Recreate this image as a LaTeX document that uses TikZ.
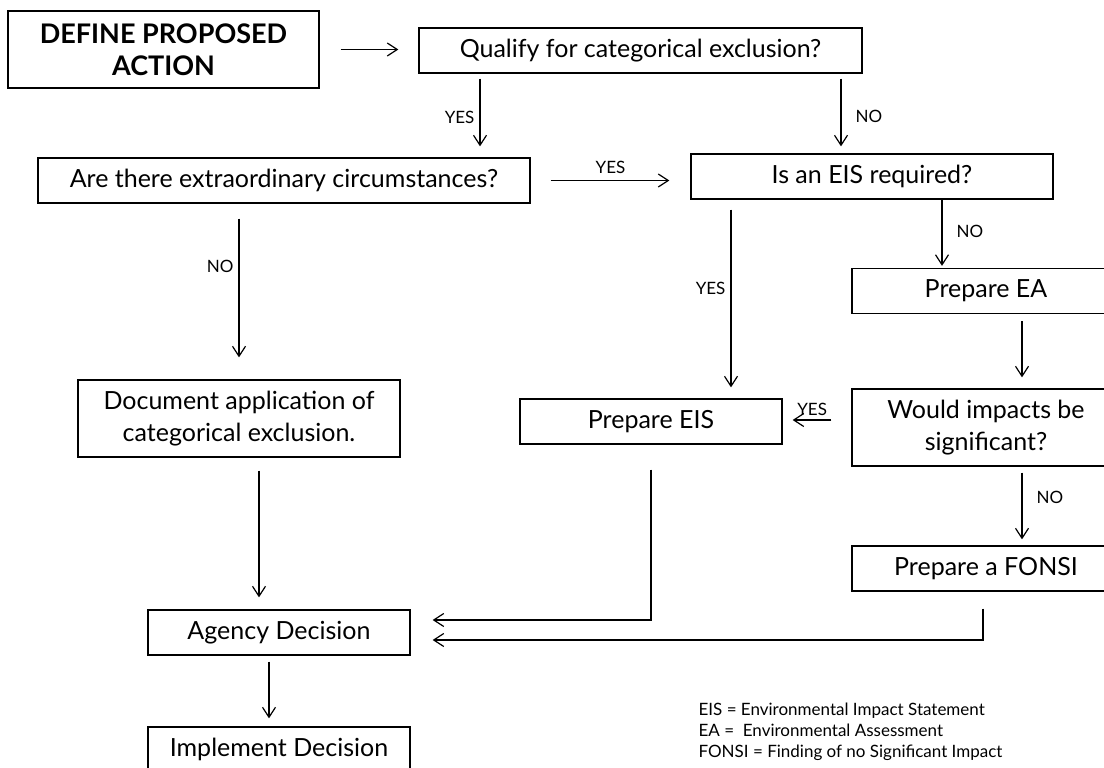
\documentclass[tikz,border=0pt]{standalone}
\usepackage{fontspec}
\setmainfont{Lato}
\usetikzlibrary{arrows.meta}

\begin{document}
\begin{tikzpicture}[x=1pt, y=-1pt, line width=1.2pt,
  box/.style={draw, line width=1.3pt, inner sep=0pt, align=center, minimum height=45pt, font=\fontsize{25}{32}\selectfont},
  arr/.style={-{Straight Barb[length=10pt, width=13pt]}},
  lbl/.style={font=\fontsize{17}{20}\selectfont, inner sep=2pt}]
  \useasboundingbox (0,0) rectangle (1104,768);

  % boxes
  \node[box, minimum width=311pt, minimum height=77pt, font=\fontsize{27}{32}\selectfont\bfseries] (define) at (163.5,49.5) {DEFINE PROPOSED\\ACTION};
  \node[box, minimum width=443pt] (qualify) at (640.5,50.5) {Qualify for categorical exclusion?};
  \node[box, minimum width=492pt] (extra) at (284,180.5) {Are there extraordinary circumstances?};
  \node[box, minimum width=362pt] (eisq) at (872,176.5) {Is an EIS required?};
  \node[box, minimum width=268pt] (prepea) at (986,291) {Prepare EA};
  \node[box, minimum width=268pt, minimum height=77pt] (would) at (986,427.5) {Would impacts be\\significant?};
  \node[box, minimum width=268pt] (fonsi) at (986,568.5) {Prepare a FONSI};
  \node[box, minimum width=262pt] (prepeis) at (651,421.5) {Prepare EIS};
  \node[box, minimum width=322pt, minimum height=77pt] (docu) at (239,418.5) {Document application of\\categorical exclusion.};
  \node[box, minimum width=262pt] (agency) at (279,632.5) {Agency Decision};
  \node[box, minimum width=262pt] (implement) at (279,749.5) {Implement Decision};

  % columns and rows for the connectors
  \coordinate (c1) at (480,0);
  \coordinate (c2) at (841,0);
  \coordinate (c3) at (942,0);
  \coordinate (c4) at (239,0);
  \coordinate (c5) at (731,0);
  \coordinate (c6) at (1022,0);
  \coordinate (c7) at (259,0);
  \coordinate (c8) at (269,0);
  \coordinate (c9) at (983,0);
  \coordinate (r1) at (0,420);
  \coordinate (r2) at (0,620);
  \coordinate (r3) at (0,640);

  \draw[arr, shorten <=21pt, shorten >=20pt] (define.east) -- (define.east -| qualify.west);
  \draw[arr, shorten <=5pt, shorten >=11pt] (qualify.south -| c1) -- node[lbl, left=3pt, pos=0.52] (yes1) {YES} (extra.north -| c1);
  \draw[arr, shorten <=5pt, shorten >=7pt] (qualify.south -| c2) -- node[lbl, right=12pt, pos=0.54] (no1) {NO} (eisq.north -| c2);
  \draw[arr, shorten <=20pt, shorten >=21pt] (extra.east) -- node[lbl, above=4pt, pos=0.5] (yes2) {YES} (extra.east -| eisq.west);
  \draw[arr, shorten >=2pt] (eisq.south -| c3) -- node[lbl, right=12pt, pos=0.46] (no2) {NO} (prepea.north -| c3);
  \draw[arr, shorten <=15pt, shorten >=22pt] (extra.south -| c4) -- node[lbl, left=3pt, pos=0.36] (no3) {NO} (docu.north -| c4);
  \draw[arr, shorten <=10pt, shorten >=11pt] (eisq.south -| c5) -- node[lbl, left=3pt, pos=0.445] (yes3) {YES} (prepeis.north -| c5);
  \draw[arr, shorten <=7pt, shorten >=11pt] (prepea.south -| c6) -- (would.north -| c6);
  \draw[arr, shorten <=20pt, shorten >=10pt] (would.west |- r1) -- node[lbl, above=2pt, pos=0.57] (yes4) {YES} (prepeis.east |- r1);
  \draw[arr, shorten <=6pt, shorten >=6pt] (would.south -| c6) -- node[lbl, right=12pt, pos=0.39] (no4) {NO} (fonsi.north -| c6);
  \draw[arr, shorten <=13pt, shorten >=12pt] (docu.south -| c7) -- (agency.north -| c7);
  \draw[arr, shorten <=25pt, shorten >=22pt] (prepeis.south) |- (agency.east |- r2);
  \draw[arr, shorten <=17pt, shorten >=22pt] (fonsi.south -| c9) |- (agency.east |- r3);
  \draw[arr, shorten <=6pt, shorten >=8pt] (agency.south -| c8) -- (implement.north -| c8);

  % legend
  \node[anchor=north west, align=left, inner sep=0pt, font=\fontsize{17}{21}\selectfont] (legend) at (698,702)
    {EIS = Environmental Impact Statement\\EA = \ Environmental Assessment\\FONSI = Finding of no Significant Impact};
\end{tikzpicture}
\end{document}
